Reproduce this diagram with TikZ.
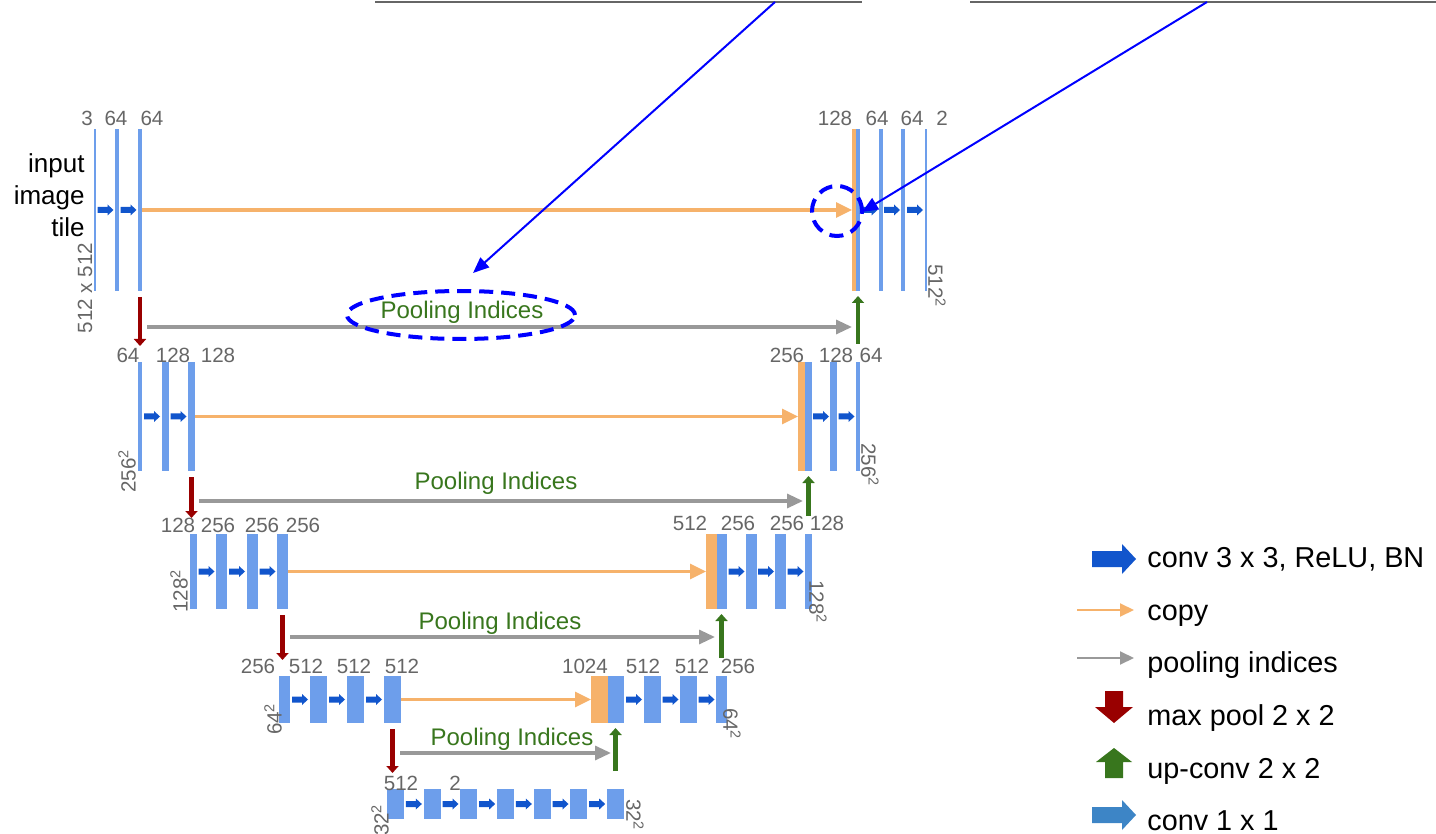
\documentclass[tikz,border=0pt]{standalone}
\usepackage{fontspec}
\setmainfont{Liberation Sans}
\usepackage{tikz}
\usetikzlibrary{arrows.meta,positioning,calc}
\definecolor{barblue}{RGB}{109,158,235}
\definecolor{copyorange}{RGB}{246,178,107}
\definecolor{convblue}{RGB}{17,85,204}
\definecolor{convoneblue}{RGB}{61,133,198}
\definecolor{poolred}{RGB}{153,0,0}
\definecolor{upgreen}{RGB}{56,118,29}
\definecolor{poolgray}{RGB}{153,153,153}
\definecolor{labelgray}{RGB}{102,102,102}

\begin{document}
\begin{tikzpicture}[x=0.5pt,y=-0.5pt,
  bar/.style 2 args={fill=barblue, inner sep=0pt, outer sep=0pt, minimum width=#1*0.5pt, minimum height=#2*0.5pt},
  cpybar/.style 2 args={bar={#1}{#2}, fill=copyorange},
  lbl/.style={text=labelgray, font=\fontsize{10.3}{12}\selectfont, inner sep=0pt},
  dimlbl/.style={lbl, rotate=90},
  dimlblr/.style={lbl, rotate=-90},
  pooltxt/.style={text=upgreen, font=\fontsize{12}{14}\selectfont, inner sep=0pt},
  legtxt/.style={font=\fontsize{14.4}{16}\selectfont, anchor=base west, inner sep=0pt},
  copyarr/.style={draw=copyorange, line width=1.6pt, -{Triangle[length=8pt,width=7.5pt]}},
  poolarr/.style={draw=poolgray, line width=1.6pt, -{Triangle[length=8pt,width=7pt]}},
  maxpool/.style={draw=poolred, line width=2.4pt, -{Triangle[length=3.5pt,width=6pt]}, shorten <=3pt, shorten >=8pt},
  upconv/.style={draw=upgreen, line width=2.4pt, -{Triangle[length=3.5pt,width=6pt]}, shorten <=9pt, shorten >=2.5pt},
  pointer/.style={draw=blue, line width=1pt, -{Triangle[length=8pt,width=6.5pt]}},
  hilite/.style={draw=blue, line width=2pt, dash pattern=on 7pt off 4pt},
  convarr/.pic={\fill[convblue] (-8,-3) -- (2,-3) -- (2,-5.5) -- (8,0) -- (2,5.5) -- (2,3) -- (-8,3) -- cycle;}
]
  \useasboundingbox (0,0) rectangle (1436,834);

  % Top edge lines
  \draw[labelgray, line width=1pt] (375,2) -- (862,2);
  \draw[labelgray, line width=1pt] (970,2) -- (1436,2);

  % Level 1: encoder
  \node[bar={2}{162}] (e1a) at (95,210) {};
  \node[bar={4}{162}] (e1b) at (117,210) {};
  \node[bar={4}{162}] (e1c) at (140,210) {};
  \node[lbl] (n1a) at (87,118) {3};
  \node[lbl] (n1b) at (116,118) {64};
  \node[lbl] (n1c) at (152,118) {64};
  \node[font=\fontsize{13}{16}\selectfont, align=right, anchor=east, inner sep=0pt] (intile) at (85,195) {input\\image\\tile};
  \node[dimlbl] (s1l) at (85,288) {512 x 512};

  % Level 1: decoder
  \node[cpybar={4}{162}] (d1o) at (854,210) {};
  \node[bar={4}{162}] (d1a) at (858,210) {};
  \node[bar={4}{162}] (d1b) at (881,210) {};
  \node[bar={4}{162}] (d1c) at (903,210) {};
  \node[bar={2}{162}] (d1d) at (926,210) {};
  \node[lbl] (m1a) at (835,118) {128};
  \node[lbl] (m1b) at (877,118) {64};
  \node[lbl] (m1c) at (912,118) {64};
  \node[lbl] (m1d) at (942,118) {2};
  \node[dimlblr] (s1r) at (937,286) {512\textsuperscript{2}};

  % Level 2: encoder
  \node[bar={4}{109}] (e2a) at (140,416.5) {};
  \node[bar={7}{109}] (e2b) at (165.5,416.5) {};
  \node[bar={7}{109}] (e2c) at (191.5,416.5) {};
  \node[lbl] (n2a) at (128,355) {64};
  \node[lbl] (n2b) at (173,355) {128};
  \node[lbl] (n2c) at (218,355) {128};
  \node[dimlbl] (s2l) at (127,471) {256\textsuperscript{2}};

  % Level 2: decoder
  \node[cpybar={7}{109}] (d2o) at (801.5,416.5) {};
  \node[bar={7}{109}] (d2a) at (808.5,416.5) {};
  \node[bar={7}{109}] (d2b) at (833.5,416.5) {};
  \node[bar={4}{109}] (d2c) at (858,416.5) {};
  \node[lbl] (m2a) at (787,355) {256};
  \node[lbl] (m2b) at (836,355) {128};
  \node[lbl] (m2c) at (871,355) {64};
  \node[dimlblr] (s2r) at (870,465) {256\textsuperscript{2}};

  % Level 3: encoder
  \node[bar={7}{75}] (e3a) at (193.5,571.5) {};
  \node[bar={11}{75}] (e3b) at (221.5,571.5) {};
  \node[bar={11}{75}] (e3c) at (252.5,571.5) {};
  \node[bar={11}{75}] (e3d) at (282.5,571.5) {};
  \node[lbl] (n3a) at (178,525) {128};
  \node[lbl] (n3b) at (218,525) {256};
  \node[lbl] (n3c) at (262,525) {256};
  \node[lbl] (n3d) at (303,525) {256};
  \node[dimlbl] (s3l) at (179,591) {128\textsuperscript{2}};

  % Level 3: decoder
  \node[cpybar={11}{75}] (d3o) at (711.5,571.5) {};
  \node[bar={10}{75}] (d3a) at (722,571.5) {};
  \node[bar={11}{75}] (d3b) at (751.5,571.5) {};
  \node[bar={11}{75}] (d3c) at (780.5,571.5) {};
  \node[bar={7}{75}] (d3d) at (808.5,571.5) {};
  \node[lbl] (m3a) at (690,523) {512};
  \node[lbl] (m3b) at (738,523) {256};
  \node[lbl] (m3c) at (787,523) {256};
  \node[lbl] (m3d) at (827,523) {128};
  \node[dimlblr] (s3r) at (818,602) {128\textsuperscript{2}};

  % Level 4: encoder
  \node[bar={11}{47}] (e4a) at (284.5,699.5) {};
  \node[bar={17}{47}] (e4b) at (318.5,699.5) {};
  \node[bar={17}{47}] (e4c) at (355.5,699.5) {};
  \node[bar={17}{47}] (e4d) at (392.5,699.5) {};
  \node[lbl] (n4a) at (258,666) {256};
  \node[lbl] (n4b) at (306,666) {512};
  \node[lbl] (n4c) at (354,666) {512};
  \node[lbl] (n4d) at (402,666) {512};
  \node[dimlbl] (s4l) at (273,719) {64\textsuperscript{2}};

  % Level 4: decoder
  \node[cpybar={17}{47}] (d4o) at (599.5,699.5) {};
  \node[bar={16}{47}] (d4a) at (616,699.5) {};
  \node[bar={17}{47}] (d4b) at (652.5,699.5) {};
  \node[bar={17}{47}] (d4c) at (688.5,699.5) {};
  \node[bar={11}{47}] (d4d) at (721.5,699.5) {};
  \node[lbl] (m4a) at (585,666) {1024};
  \node[lbl] (m4b) at (643,666) {512};
  \node[lbl] (m4c) at (692,666) {512};
  \node[lbl] (m4d) at (738,666) {256};
  \node[dimlblr] (s4r) at (732,724) {64\textsuperscript{2}};

  % Level 5: bottom
  \foreach \i in {0,...,6}
    \node[bar={17}{30}] (b\i) at (395.5+36.67*\i,804) {};
  \foreach \i [evaluate=\i as \j using int(\i+1)] in {0,...,5}
    \pic at ($(b\i.east)!0.5!(b\j.west)$) {convarr};
  \node[lbl] (n5a) at (401,783) {512};
  \node[lbl] (n5b) at (455,783) {2};
  \node[dimlbl] (s5l) at (380,820) {32\textsuperscript{2}};
  \node[dimlblr] (s5r) at (635,815) {32\textsuperscript{2}};

  % Conv arrows
  \foreach \a/\b in {e1a/e1b,e1b/e1c,d1a/d1b,d1b/d1c,d1c/d1d,
                     e2a/e2b,e2b/e2c,d2a/d2b,d2b/d2c,
                     e3a/e3b,e3b/e3c,e3c/e3d,d3a/d3b,d3b/d3c,d3c/d3d,
                     e4a/e4b,e4b/e4c,e4c/e4d,d4a/d4b,d4b/d4c,d4c/d4d}
    \pic at ($(\a.east)!0.5!(\b.west)$) {convarr};

  % Copy arrows
  \draw[copyarr] (e1c.east) -- (d1o.west);
  \draw[copyarr] (e2c.east) -- (d2o.west);
  \draw[copyarr] (e3d.east) -- (d3o.west);
  \draw[copyarr] (e4d.east) -- (d4o.west);

  % Max pool and up-conv
  \draw[maxpool] (e1c.south) -- (e1c.south |- e2a.north);
  \draw[maxpool] (e2c.south) -- (e2c.south |- e3a.north);
  \draw[maxpool] (e3d.south) -- (e3d.south |- e4a.north);
  \draw[maxpool] (e4d.south) -- (e4d.south |- b0.north);
  \draw[upconv] (d2c.north) -- (d2c.north |- d1a.south);
  \draw[upconv] (d3d.north) -- (d3d.north |- d2a.south);
  \draw[upconv] (d4d.north) -- (d4d.north |- d3a.south);
  \draw[upconv] (b6.north) -- (b6.north |- d4a.south);

  % Pooling indices
  \coordinate (p1s) at (147,327); \coordinate (p1e) at (852,327);
  \coordinate (p2s) at (199,501); \coordinate (p2e) at (803,501);
  \coordinate (p3s) at (290,637); \coordinate (p3e) at (715,637);
  \coordinate (p4s) at (400,753); \coordinate (p4e) at (611,753);
  \draw[poolarr] (p1s) -- (p1e);
  \draw[poolarr] (p2s) -- (p2e);
  \draw[poolarr] (p3s) -- (p3e);
  \draw[poolarr] (p4s) -- (p4e);
  \node[pooltxt] (pi1) at (462,312) {Pooling Indices};
  \node[pooltxt] (pi2) at (496,483) {Pooling Indices};
  \node[pooltxt] (pi3) at (500,623) {Pooling Indices};
  \node[pooltxt] (pi4) at (512,739) {Pooling Indices};

  % Highlights
  \draw[hilite] (461,315) ellipse [x radius=57pt, y radius=12pt];
  \draw[hilite] (837,211) circle [radius=12.5pt];
  \coordinate (ptr1s) at (775,2); \coordinate (ptr1e) at (473,273);
  \coordinate (ptr2s) at (1207,2); \coordinate (ptr2e) at (862,212);
  \draw[pointer] (ptr1s) -- (ptr1e);
  \draw[pointer] (ptr2s) -- (ptr2e);

  % Legend
  \fill[convblue] (1092,551) -- (1122,551) -- (1122,544) -- (1136,559) -- (1122,574) -- (1122,567) -- (1092,567) -- cycle;
  \node[legtxt] (lg1) at (1147,567) {conv 3 x 3, ReLU, BN};
  \coordinate (lcs) at (1077,610); \coordinate (lce) at (1134,610);
  \draw[copyarr, line width=1pt, -{Triangle[length=7pt,width=6.5pt]}] (lcs) -- (lce);
  \node[legtxt] (lg2) at (1147,620) {copy};
  \coordinate (lps) at (1077,658); \coordinate (lpe) at (1134,658);
  \draw[poolarr, line width=1pt, -{Triangle[length=7pt,width=6.5pt]}] (lps) -- (lpe);
  \node[legtxt] (lg3) at (1147,672) {pooling indices};
  \fill[poolred] (1105,691) -- (1123,691) -- (1123,707) -- (1133,707) -- (1114,723) -- (1095,707) -- (1105,707) -- cycle;
  \node[legtxt] (lg4) at (1147,725) {max pool 2 x 2};
  \fill[upgreen] (1105,778) -- (1123,778) -- (1123,762) -- (1132,762) -- (1114,748) -- (1096,762) -- (1105,762) -- cycle;
  \node[legtxt] (lg5) at (1147,778) {up-conv 2 x 2};
  \fill[convoneblue] (1092,807) -- (1122,807) -- (1122,800) -- (1136,815) -- (1122,830) -- (1122,823) -- (1092,823) -- cycle;
  \node[legtxt] (lg6) at (1147,830) {conv 1 x 1};
\end{tikzpicture}
\end{document}
